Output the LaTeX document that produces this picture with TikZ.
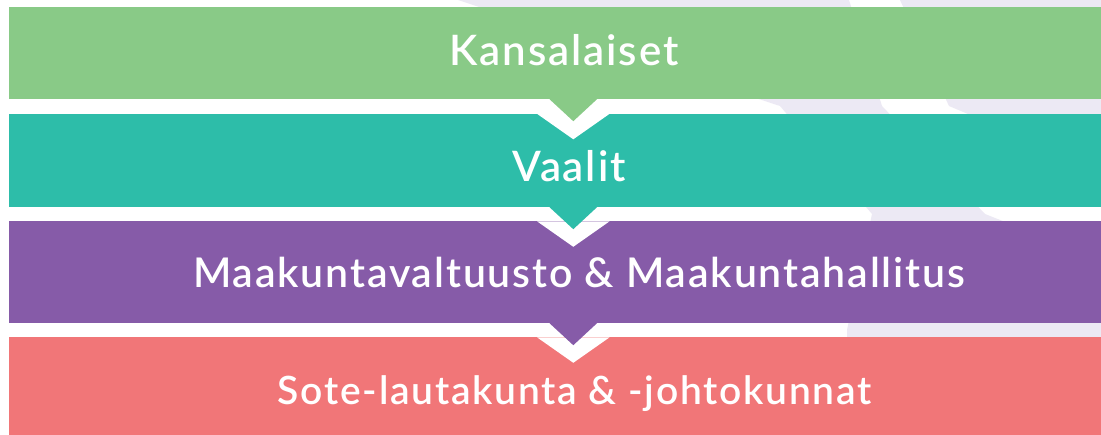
\documentclass[tikz,border=0pt]{standalone}
\usepackage{fontspec}
\setmainfont{Lato}
\newfontfamily\labelfont{Lato Semibold}[LetterSpace=4.5]
\usetikzlibrary{calc}
\definecolor{cgreen}{HTML}{89CA87}
\definecolor{cteal}{HTML}{2DBDA9}
\definecolor{cpurple}{HTML}{865BA8}
\definecolor{cred}{HTML}{F17678}
\definecolor{clav}{HTML}{ECE9F4}
\tikzset{
  band/.style={rectangle, draw=none, inner sep=0pt, minimum width=1126pt},
  label text/.style={text=white, font=\labelfont\fontsize{#1}{#1}\selectfont, inner sep=0pt, anchor=base},
  label text/.default=41,
  notch/.style={fill=white},
}
\begin{document}
\begin{tikzpicture}[x=1pt,y=-1pt]
\useasboundingbox (0,0) rectangle (1101,435);
\clip (0,0) rectangle (1101,435);
\fill[white] (0,0) rectangle (1101,435);
% faint background shapes
\fill[clav] (458,0) -- (849,0) -- (882,106) -- (985,214) -- (1101,260) -- (1101,435) -- (847,435) -- (847,330) -- (872,214) -- (780,106) -- cycle;
\fill[clav] (900,0) -- (1101,0) -- (1101,170) -- (949,106) -- cycle;
% bands
\node[band, fill=cgreen,  minimum height=92pt]    (kans) at (572,53) {};
\node[band, fill=cteal,   minimum height=93pt]    (vaal) at (572,160.5) {};
\node[band, fill=cpurple, minimum height=101.5pt] (maak) at (572,272.25) {};
\node[band, fill=cred,    minimum height=112.5pt] (sote) at (572,393.75) {};
% chevrons
\foreach \up/\low/\col in {kans/vaal/cgreen, vaal/maak/cteal, maak/sote/cpurple}{
  \coordinate (ub) at (\up.south);
  \coordinate (lt) at (\low.north);
  \fill[notch] ($(lt)+(-35,0)$) -- ($(lt)+(1.3,25.5)$) -- ($(lt)+(37.6,0)$) -- cycle;
  \fill[\col] ($(ub)+(-22.5,0)$) -- ($(ub)+(1.3,22)$) -- ($(ub)+(25,0)$) -- cycle;
}
% texts
\node[label text=42] (t1) at (564,66) {Kansalaiset};
\node[label text=42] (t2) at (569,181.7) {Vaalit};
\node[label text=41] (t3) at (579,287.3) {Maakuntavaltuusto \& Maakuntahallitus};
\node[label text=39] (t4) at (574.7,404.5) {Sote-lautakunta \& -johtokunnat};
\end{tikzpicture}
\end{document}
